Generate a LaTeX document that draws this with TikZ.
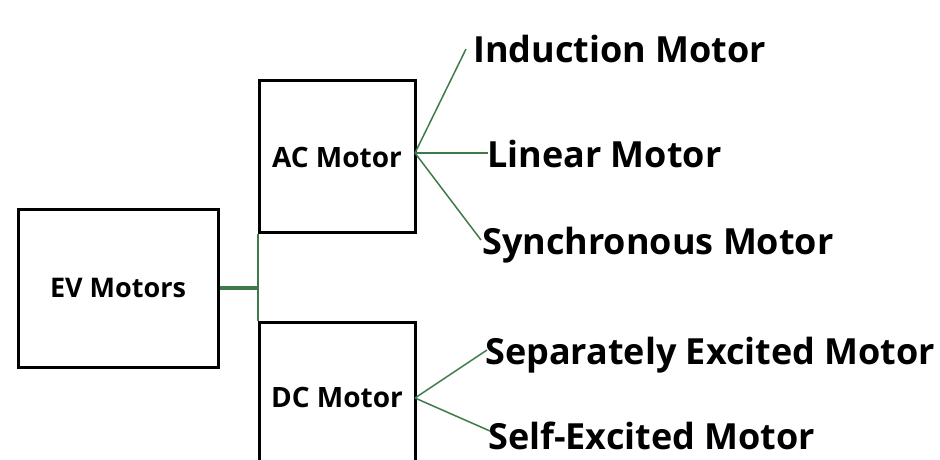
\documentclass[tikz,border=0pt]{standalone}
\usepackage{fontspec}
\setmainfont{Open Sans}
\definecolor{branch}{RGB}{62,122,74}
\begin{document}
\begin{tikzpicture}[x=1pt,y=-1pt,
  box/.style={draw=black,line width=3pt,inner sep=0pt},
  boxtext/.style={anchor=base,inner sep=0pt,font=\bfseries\fontsize{28}{28}\selectfont},
  leaf/.style={anchor=base west,inner sep=0pt,font=\bfseries\fontsize{36}{36}\selectfont},
  thinlink/.style={draw=branch,line width=1.5pt},
  thicklink/.style={draw=branch,line width=4pt}]
\useasboundingbox (0,0) rectangle (940,460);
\clip (0,0) rectangle (940,460);

% main boxes
\node[box,minimum width=200pt,minimum height=158pt] (ev) at (118,288) {};
\node[box,minimum width=156pt,minimum height=151pt] (ac) at (337,156.5) {};
\node[box,minimum width=156pt,minimum height=160pt] (dc) at (337,402) {};
\node[boxtext,font=\bfseries\fontsize{27}{27}\selectfont] (evlabel) at (118,297) {EV Motors};
\node[boxtext] (aclabel) at (337,167) {AC Motor};
\node[boxtext] (dclabel) at (337,407) {DC Motor};

% fan-out points on the right edges
\coordinate (acfan) at (415,153);
\coordinate (dcfan) at (415,398);

% AC motor types
\coordinate (indend) at (466,49);
\coordinate (linend) at (488,153);
\coordinate (synend) at (481,240);
\node[leaf] (ind) at (473,63) {Induction Motor};
\node[leaf] (lin) at (487,167) {Linear Motor};
\node[leaf] (syn) at (482,254) {Synchronous Motor};

% DC motor types
\coordinate (sepend) at (487,350);
\coordinate (selfend) at (490,431);
\node[leaf] (sep) at (485,364) {Separately Excited Motor};
\node[leaf] (self) at (488,449) {Self-Excited Motor};

% connectors
\draw[thicklink] (ev.east) -- (ev.east -| ac.west);
\draw[thinlink,line width=2pt] ([xshift=0.5pt]ac.south west) -- ([xshift=0.5pt]dc.north west);
\foreach \t in {indend,linend,synend} \draw[thinlink] (acfan) -- (\t);
\foreach \t in {sepend,selfend} \draw[thinlink] (dcfan) -- (\t);
\end{tikzpicture}
\end{document}
